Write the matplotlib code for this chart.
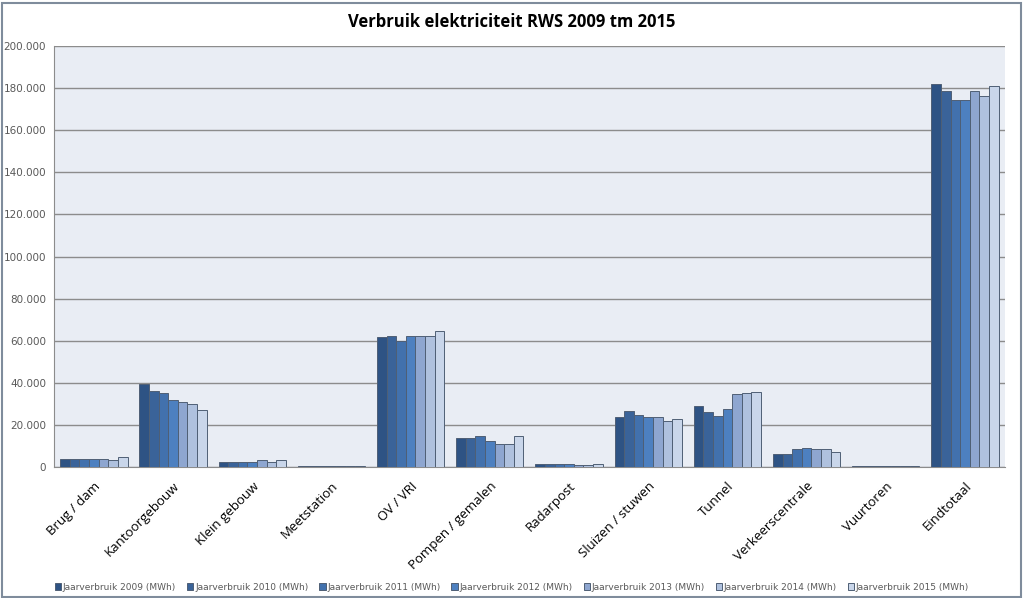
import numpy as np
import matplotlib.pyplot as plt
from matplotlib.patches import Rectangle
from matplotlib.ticker import FuncFormatter

# categorieën en jaarverbruik (MWh)
categorieen = ['Brug / dam', 'Kantoorgebouw', 'Klein gebouw', 'Meetstation', 'OV / VRI',
               'Pompen / gemalen', 'Radarpost', 'Sluizen / stuwen', 'Tunnel',
               'Verkeerscentrale', 'Vuurtoren', 'Eindtotaal']
jaren = ['2009', '2010', '2011', '2012', '2013', '2014', '2015']

v2009 = [3900, 39300, 2400, 500, 61800, 13600, 1600, 24000, 29000, 6300, 600, 181800]
v2010 = [3900, 36000, 2400, 500, 62300, 13600, 1500, 26600, 26300, 6300, 600, 178600]
v2011 = [3900, 35000, 2400, 500, 59900, 14700, 1400, 24700, 24400, 8400, 500, 174300]
v2012 = [3900, 31800, 2500, 500, 62100, 12300, 1300, 23700, 27700, 8900, 500, 174300]
v2013 = [3900, 30700, 3200, 500, 62300, 11100, 1200, 23700, 34500, 8400, 500, 178800]
v2014 = [3500, 30100, 2500, 500, 62100, 11000, 1200, 21800, 35100, 8400, 500, 176200]
v2015 = [5000, 27200, 3200, 500, 64800, 14700, 1400, 22800, 35600, 7000, 500, 181100]
reeksen = [v2009, v2010, v2011, v2012, v2013, v2014, v2015]

kleuren = ['#2E5384', '#3A6399', '#4271AD', '#4D80C0', '#8EA6D0', '#AFC1DE', '#C9D6EA']

fig = plt.figure(figsize=(10.24, 5.98), dpi=100)
ax = fig.add_axes([0.053, 0.219, 0.928, 0.704])
ax.set_facecolor('#E9EDF4')

x = np.arange(len(categorieen))
breedte = 0.85 / len(jaren)
for i, (jaar, waarden) in enumerate(zip(jaren, reeksen)):
    ax.bar(x - 0.425 + breedte * (i + 0.5), waarden, width=breedte, color=kleuren[i],
           edgecolor='#4F5F75', linewidth=0.7,
           label='Jaarverbruik %s (MWh)' % jaar, zorder=3)

ax.set_xlim(-0.5, len(categorieen) - 0.5)
ax.set_ylim(0, 200000)
ax.set_yticks(np.arange(0, 200001, 20000))
ax.yaxis.set_major_formatter(FuncFormatter(lambda v, p: '{:,.0f}'.format(v).replace(',', '.')))
ax.grid(axis='y', color='#8C8C8C', linewidth=1.0, zorder=1)
ax.tick_params(axis='y', labelsize=7.5, colors='#595959', length=0, pad=6)
ax.tick_params(axis='x', length=0, pad=9)
ax.set_xticks(x)
ax.set_xticklabels(categorieen, rotation=45, ha='right', rotation_mode='anchor',
                   fontsize=9.5, family='Open Sans')
for s in ['top', 'right']:
    ax.spines[s].set_visible(False)
ax.spines['left'].set_color('#8C8C8C')
ax.spines['bottom'].set_color('#8C8C8C')

fig.text(0.5, 0.964, 'Verbruik elektriciteit RWS 2009 tm 2015', ha='center', va='center',
         fontsize=12, fontweight='bold', family='Open Sans')

fig.legend(loc='center', bbox_to_anchor=(0.5, 0.018), ncol=7, fontsize=6.5, frameon=False,
           handlelength=0.7, handleheight=0.7, handletextpad=0.2, columnspacing=1.2,
           labelcolor='#595959')

# rand om de grafiek
fig.patches.append(Rectangle((0.002, 0.002), 0.995, 0.993, transform=fig.transFigure,
                             fill=False, edgecolor='#7F8C9C', linewidth=1.5))

fig.savefig('out.png', dpi=100)
